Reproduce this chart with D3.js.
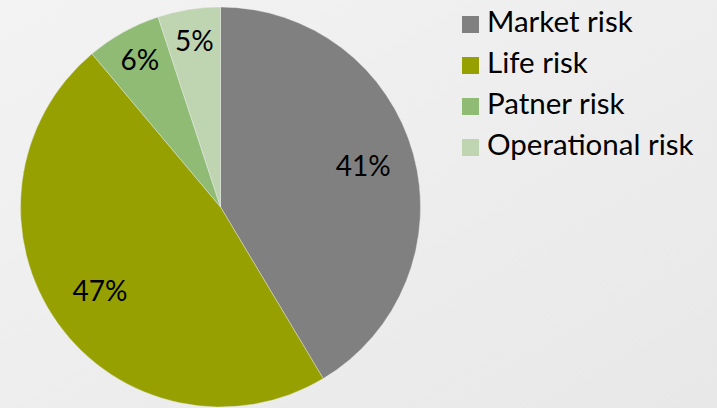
<!DOCTYPE html>
<html lang="en">
<head>
  <meta charset="UTF-8">
  <title>Risk breakdown</title>
  <script src="https://d3js.org/d3.v7.min.js"></script>
  <style>
    body { margin: 0; background: #ececec; }
    svg { display: block; font-family: "Gill Sans", Lato, sans-serif; }
    .label { font-size: 28px; fill: #000; }
    .legend text { font-size: 29.5px; fill: #000; }
  </style>
</head>
<body>
<svg width="717" height="408"></svg>
<script>
  const categories = ["Market risk", "Life risk", "Patner risk", "Operational risk"];
  const values = [41, 47, 6, 5];
  const colors = ["#808080", "#96a000", "#8fbb74", "#bfd5b2"];

  const width = 717, height = 408;
  const svg = d3.select("svg");

  // soft grey background
  const grad = svg.append("defs").append("linearGradient")
    .attr("id", "bg").attr("x1", 0).attr("y1", 0).attr("x2", 1).attr("y2", 1);
  grad.append("stop").attr("offset", 0).attr("stop-color", "#f3f3f3");
  grad.append("stop").attr("offset", 1).attr("stop-color", "#e8e8e8");
  svg.append("rect").attr("width", width).attr("height", height).attr("fill", "url(#bg)");

  const radius = 200;
  const cx = 220.5, cy = 207;

  const pie = d3.pie().sort(null).value(d => d.value);
  const arc = d3.arc().innerRadius(0).outerRadius(radius);
  // small slices get their labels pushed a bit further out, like Excel does
  const labelPos = d => {
    const r = d.data.value < 10 ? radius * 0.83 : radius * 0.74;
    return d3.arc().innerRadius(r).outerRadius(r).centroid(d);
  };

  const data = categories.map((c, i) => ({ name: c, value: values[i], color: colors[i] }));

  const g = svg.append("g").attr("transform", `translate(${cx},${cy})`);

  g.selectAll("path")
    .data(pie(data))
    .join("path")
    .attr("d", arc)
    .attr("fill", d => d.data.color)
    .attr("stroke", "#eeeeee")
    .attr("stroke-width", 0.4);

  g.selectAll("text")
    .data(pie(data))
    .join("text")
    .attr("class", "label")
    .attr("transform", d => `translate(${labelPos(d)})`)
    .attr("text-anchor", "middle")
    .attr("dy", "0.3em")
    .text(d => `${d.data.value}%`);

  const legend = svg.append("g").attr("class", "legend")
    .attr("transform", "translate(462,0)");

  const row = legend.selectAll("g")
    .data(data)
    .join("g")
    .attr("transform", (d, i) => `translate(0,${16 + i * 41})`);

  row.append("rect")
    .attr("width", 17)
    .attr("height", 17)
    .attr("fill", d => d.color);

  row.append("text")
    .attr("x", 25)
    .attr("y", 16)
    .text(d => d.name);
</script>
</body>
</html>
